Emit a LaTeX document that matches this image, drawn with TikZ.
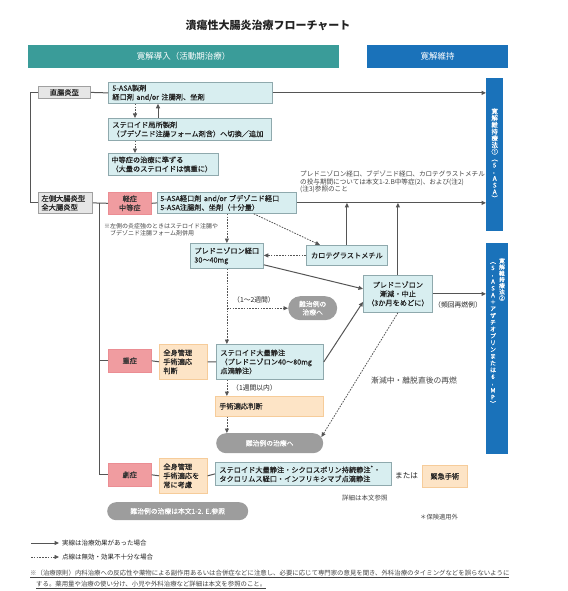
\documentclass[tikz,border=0pt]{standalone}
\usepackage{fontspec}
\usepackage{graphicx}
\setmainfont{Noto Sans CJK JP}
\newfontfamily\bx{Noto Sans CJK JP}[FakeBold=0.35]
\newfontfamily\vx{Noto Sans CJK JP}[FakeBold=0.8]
\usetikzlibrary{arrows.meta,calc}
\definecolor{hdrteal}{HTML}{3A9C99}
\definecolor{hdrblue}{HTML}{1A72BA}
\definecolor{boxcyan}{HTML}{D8EEF0}
\definecolor{boxline}{HTML}{8FA9AD}
\definecolor{graybox}{HTML}{E6E6E6}
\definecolor{grayline}{HTML}{A0A0A0}
\definecolor{pinkc}{HTML}{F09CA0}
\definecolor{pinkline}{HTML}{EB8D93}
\definecolor{orangec}{HTML}{FDE4C6}
\definecolor{orangeline}{HTML}{F6CC9A}
\definecolor{ovalgray}{HTML}{9D9D9D}
\definecolor{linec}{HTML}{555555}
\definecolor{txt}{HTML}{222222}
\definecolor{notetxt}{HTML}{444444}
\begin{document}
\begin{tikzpicture}[x=1pt,y=-1pt,
  base/.style={anchor=north west, inner ysep=0pt, font=\bx\fontsize{7.2}{9}\selectfont, text=txt},
  cbox/.style={base, draw=boxline, fill=boxcyan, line width=0.8pt, inner xsep=4pt, align=left},
  gbox/.style={base, draw=grayline, fill=graybox, line width=0.8pt, inner xsep=3pt, align=left, font=\bx\fontsize{7.3}{8.8}\selectfont},
  pbox/.style={base, draw=pinkline, fill=pinkc, line width=0.6pt, align=center, inner xsep=1pt, text=black!80},
  obox/.style={base, draw=orangeline, fill=orangec, line width=0.6pt, inner xsep=4pt, align=left},
  oval/.style={base, fill=ovalgray, text=white, align=center, inner xsep=2pt, font=\bx\fontsize{6.8}{8.2}\selectfont},
  hdr/.style={base, text=white, align=center, font=\fontsize{8.5}{10}\selectfont},
  vtext/.style={text=white, align=center, inner sep=0pt, font=\vx\fontsize{6.5}{6.7}\selectfont},
  conn/.style={draw=linec, line width=1pt},
  arr/.style={-{Triangle[length=4.5pt,width=4pt]}},
  dsh/.style={draw=linec, line width=0.8pt, dash pattern=on 1.6pt off 1.2pt},
  lbl/.style={font=\fontsize{6.8}{8}\selectfont, text=txt, inner sep=0pt, anchor=west},
  note/.style={font=\fontsize{6.5}{7.3}\selectfont, text=notetxt, inner sep=0pt, anchor=north west, align=left}
]
\useasboundingbox (0,0) rectangle (567,591);

% title and headers
\node[font=\fontsize{11}{12}\selectfont\bfseries, text=txt] (title) at (268,25) {潰瘍性大腸炎治療フローチャート};
\node[hdr, fill=hdrteal, minimum width=311pt, minimum height=23pt] (hdr1) at (28,45) {寛解導入（活動期治療）};
\node[hdr, fill=hdrblue, minimum width=141pt, minimum height=23pt] (hdr2) at (367,45) {寛解維持};

% maintenance bars
\node[base, fill=hdrblue, minimum width=17pt, minimum height=153pt] (bar1) at (486,78) {};
\node[base, fill=hdrblue, minimum width=22pt, minimum height=211pt] (bar2) at (486,243) {};
\node[vtext] (bar1t) at (bar1.center) {寛\\解\\維\\持\\療\\法\\①\\︵\\5\\\rotatebox{90}{-}\\A\\S\\A\\︶};
\node[vtext, anchor=north, font=\vx\fontsize{5.8}{6.2}\selectfont] (bar2a) at (502,258) {寛\\解\\維\\持\\療\\法\\②};
\node[vtext, anchor=north, font=\vx\fontsize{5.9}{6.8}\selectfont] (bar2b) at (493,262) {︵\\5\\\rotatebox{90}{-}\\A\\S\\A\\＋\\ア\\ザ\\チ\\オ\\プ\\リ\\ン\\ま\\た\\は\\6\\\rotatebox{90}{-}\\M\\P\\︶};

% left type boxes
\node[gbox, align=center, text width=46pt, minimum height=12pt] (chokucho) at (38,86) {直腸炎型};
\node[gbox, text width=48pt, minimum height=21pt] (sada) at (38,192) {左側大腸炎型\\全大腸炎型};

% proctitis branch
\node[cbox, text width=156pt, minimum height=21pt] (asa1) at (108,82) {5-ASA製剤\\\mbox{経口剤 and/or 注腸剤、坐剤}};
\node[cbox, text width=155pt, minimum height=22pt] (sloc) at (108,118) {ステロイド局所製剤\\（ブデゾニド注腸フォーム剤含）へ切換／追加};
\node[cbox, inner xsep=3pt, text width=104pt, minimum height=22pt] (mod) at (108,153) {中等症の治療に準ずる\\（大量のステロイドは慎重に）};

% mild / moderate
\node[pbox, minimum width=43pt, minimum height=22pt] (keisho) at (108,192) {軽症\\中等症};
\node[cbox, inner xsep=3pt, text width=133pt, minimum height=21pt] (asa2) at (157,192) {\mbox{5-ASA経口剤 and/or ブデゾニド経口}\\5-ASA注腸剤、坐剤（十分量）};
\node[cbox, text width=65pt, minimum height=25pt] (pslo) at (190,243) {プレドニゾロン経口\\30～40mg};
\node[cbox, align=center, text width=73pt, minimum height=20pt] (caro) at (306,245) {カロテグラストメチル};
\node[cbox, align=center, inner xsep=2pt, text width=65pt, minimum height=37pt] (taper) at (363,275) {プレドニゾロン\\漸減・中止\\（3か月をめどに）};
\node[oval, rounded corners=12pt, minimum width=49pt, minimum height=24pt] (oval1) at (288,296) {難治例の\\治療へ};

% severe
\node[pbox, minimum width=43pt, minimum height=23pt] (juusho) at (108,349) {重症};
\node[obox, text width=40pt, minimum height=35pt] (zen1) at (159,344) {全身管理\\手術適応\\判断};
\node[cbox, text width=99pt, minimum height=35pt] (siv) at (216,344) {ステロイド大量静注\\（プレドニゾロン40～80mg\\点滴静注）};
\node[obox, text width=100pt, minimum height=20pt] (surg) at (215,396) {手術適応判断};
\node[oval, rounded corners=10pt, minimum width=107pt, minimum height=20pt] (oval2) at (216,433) {難治例の治療へ};

% fulminant
\node[pbox, minimum width=43pt, minimum height=23pt] (geki) at (108,463) {劇症};
\node[obox, text width=40pt, minimum height=35pt] (zen2) at (159,458) {全身管理\\手術適応を\\常に考慮};
\node[cbox, text width=168pt, minimum height=23pt] (fulm) at (215,462) {ステロイド大量静注・シクロスポリン持続静注\textsuperscript{*}・\\タクロリムス経口・インフリキシマブ点滴静注};
\node[lbl, font=\fontsize{7.6}{8}\selectfont] (mata) at (395,476) {または};
\node[obox, align=center, text width=37pt, minimum height=22pt] (emer) at (422,465) {緊急手術};
\node[lbl, font=\fontsize{6.5}{7}\selectfont, text=notetxt] (shosai) at (342,498) {詳細は本文参照};
\node[lbl, font=\fontsize{6.3}{7}\selectfont, text=notetxt] (hoken) at (420,517) {＊保険適用外};
\node[oval, rounded corners=9pt, minimum width=141pt, minimum height=18pt] (oval3) at (107,502) {難治例の治療は本文1-2. E.参照};

% notes and labels
\node[note, font=\fontsize{6.6}{7.2}\selectfont] (note1) at (300,171) {プレドニゾロン経口、ブデゾニド経口、カロテグラストメチル\\の投与期間については本文1-2.B中等症(2)、および(注2)\\(注3)参照のこと};
\node[note, font=\fontsize{6}{7}\selectfont] (note2) at (104,223) {※左側の炎症強のときはステロイド注腸や\\\hspace{6pt}ブデゾニド注腸フォーム剤併用};
\node[lbl] (w12) at (233,300) {（1～2週間）};
\node[lbl] (w1) at (232,388) {（1週間以内）};
\node[lbl] (hinkai) at (434,305) {（頻回再燃例）};
\node[lbl, font=\fontsize{7.8}{9}\selectfont, text=notetxt] (zengen) at (371,381) {漸減中・離脱直後の再燃};

% connectors
\draw[conn] (chokucho.west) -- ++(-8,0) |- (sada.west);
\draw[conn] (chokucho.east) -- (asa1.west);
\draw[conn] (sada.east) -- (keisho.west);
\coordinate (tt) at (99,202.5);
\draw[conn] (tt) |- (geki.west);
\draw[conn] (tt |- juusho.west) -- (juusho.west);
\draw[conn] (keisho.east) -- (asa2.west);
\draw[conn] (juusho.east) -- (zen1.west);
\draw[conn] (zen1.east) -- (siv.west);
\draw[conn] (geki.east) -- (zen2.west);
\draw[conn] (zen2.east) -- (fulm.west);
\draw[conn,arr] (asa1.east) -- (asa1.east -| bar1.west);
\draw[conn,arr] (asa2.east) -- (asa2.east -| bar1.west);
\draw[dsh,arr] ([xshift=27pt]asa1.south west) -- ([xshift=27pt]sloc.north west);
\draw[conn,arr] ([xshift=50pt]sloc.north west) -- ([xshift=50pt]asa1.south west);
\draw[dsh,arr] ([xshift=27pt]sloc.south west) -- ([xshift=27pt]mod.north west);
\draw[dsh,arr] (asa2.south -| pslo.north) -- (pslo.north);
\draw[dsh,arr] ([xshift=-43pt]asa2.south east) -- ([xshift=14pt]caro.north west);
\draw[dsh,arr] (caro.west) -- (caro.west -| pslo.east);
\draw[conn,arr] (caro.north) -- (caro.north |- asa2.east);
\draw[conn,arr] (taper.north) -- (taper.north |- asa2.east);
\draw[conn,arr] ([yshift=4pt]pslo.south east) -- ([yshift=5pt]taper.west);
\draw[conn,arr] (siv.east) -- ([yshift=-8pt]taper.west);
\draw[conn,arr] (taper.east) -- (taper.east -| bar2.west);
\draw[dsh,arr] (pslo.south) -- (pslo.south |- siv.north);
\coordinate (j1) at (pslo.south |- oval1.west);
\draw[dsh,arr] (j1) -- (oval1.west);
\draw[dsh,arr] (pslo.south |- siv.south) -- (pslo.south |- surg.north);
\draw[dsh,arr] (pslo.south |- surg.south) -- (pslo.south |- oval2.north);
\draw[dsh,arr] (taper.south) -- ([xshift=-2pt,yshift=-4pt]oval2.north east);

% legend
\node[lbl, font=\fontsize{6.5}{7}\selectfont] (leg1) at (62,543) {実線は治療効果があった場合};
\node[lbl, font=\fontsize{6.5}{7}\selectfont] (leg2) at (62,557) {点線は無効・効果不十分な場合};
\coordinate (lg1) at (31,543);
\coordinate (lg2) at (31,557);
\draw[conn,arr] (lg1) -- ([xshift=-3pt]leg1.west);
\draw[dsh,arr] (lg2) -- ([xshift=-3pt]leg2.west);

% footnote
\node[lbl, font=\fontsize{6.4}{7}\selectfont, text=notetxt] (fn1) at (30,574) {\underline{※（治療原則）内科治療への反応性や薬物による副作用あるいは合併症などに注意し、必要に応じて専門家の意見を聞き、外科治療のタイミングなどを誤らないように}};
\node[lbl, font=\fontsize{6.4}{7}\selectfont, text=notetxt] (fn2) at (36,585) {\underline{する。薬用量や治療の使い分け、小児や外科治療など詳細は本文を参照のこと。}};
\end{tikzpicture}
\end{document}
